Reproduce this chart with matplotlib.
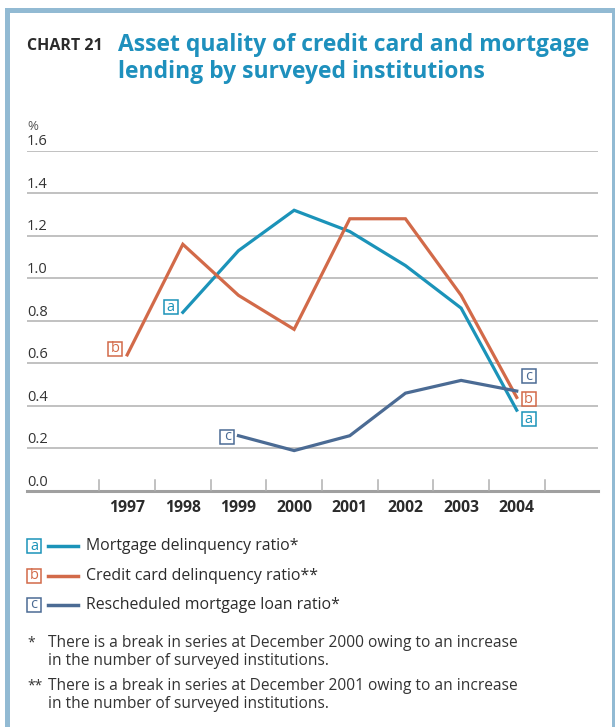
import matplotlib.pyplot as plt
from matplotlib.patches import Rectangle
from matplotlib.transforms import blended_transform_factory, offset_copy

plt.rcParams['font.family'] = ['Open Sans', 'DejaVu Sans']

years = [1997, 1998, 1999, 2000, 2001, 2002, 2003, 2004]
mortgage_years = years[1:]
mortgage = [0.84, 1.13, 1.32, 1.22, 1.06, 0.86, 0.38]
credit_years = years
credit = [0.64, 1.16, 0.92, 0.76, 1.28, 1.28, 0.92, 0.44]
resched_years = years[2:]
resched = [0.26, 0.19, 0.26, 0.46, 0.52, 0.47]

yticks = [0.0, 0.2, 0.4, 0.6, 0.8, 1.0, 1.2, 1.4, 1.6]
series_names = ['Mortgage delinquency ratio*',
                'Credit card delinquency ratio**',
                'Rescheduled mortgage loan ratio*']
series_tags = ['a', 'b', 'c']
footnotes = [('*', 'There is a break in series at December 2000 owing to an increase\n'
                   'in the number of surveyed institutions.'),
             ('**', 'There is a break in series at December 2001 owing to an increase\n'
                    'in the number of surveyed institutions.')]

teal = '#1b93b9'
orange = '#d26a49'
slate = '#4b6b94'
frame = '#92bad3'
W, H = 615, 727

fig = plt.figure(figsize=(W / 100, H / 100), dpi=100)

# light blue frame (left, top, right)
for x0, y0, w, h in [(5, 0, 5, 719), (5, 714, 610, 5), (612, 0, 3, 719)]:
    fig.patches.append(Rectangle((x0 / W, y0 / H), w / W, h / H, transform=fig.transFigure,
                                 facecolor=frame, edgecolor='none'))

def px(x, y):
    return x / W, 1 - y / H

fig.text(*px(27, 46), 'CHART 21', fontsize=11.5, fontweight='bold', color='#2b2b2b', va='center')
fig.text(*px(118, 58.5), 'Asset quality of credit card and mortgage\nlending by surveyed institutions',
         fontsize=16.5, fontweight='bold', color='#1e90bd', va='center', linespacing=1.22)

ax = fig.add_axes([27 / W, (H - 491) / H, 571 / W, (491 - 150.7) / H])
ax.set_xlim(1995.2, 2005.46)
ax.set_ylim(0, 1.6)
for s in ax.spines.values():
    s.set_visible(False)
ax.set_xticks([])
ax.set_yticks([])
ax.patch.set_alpha(0)

for v in yticks[1:]:
    ax.axhline(v, color='#b0b0b0', lw=1.1, zorder=1)
ax.axhline(0, color='#a0a0a0', lw=2.2, zorder=1, clip_on=False)
for t in range(1996, 2005):
    ax.plot([t + 0.5, t + 0.5], [0, 0.05], color='#b0b0b0', lw=1.1, zorder=1)

trans = blended_transform_factory(ax.transAxes, ax.transData)
for v in yticks:
    ax.text(0, v + 0.006, f'{v:.1f}', transform=trans, fontsize=10.5, color='#333333',
            va='bottom', ha='left')
ax.text(0, 1.685, '%', transform=trans, fontsize=9.5, color='#555555', va='bottom', ha='left')

for y in years:
    ax.text(y, -0.08, str(y), fontsize=11.3, fontweight='bold', color='#2b2b2b',
            ha='center', va='center')

ax.plot(mortgage_years, mortgage, color=teal, lw=2.3, zorder=3, solid_joinstyle='miter')
ax.plot(credit_years, credit, color=orange, lw=2.3, zorder=3, solid_joinstyle='miter')
ax.plot(resched_years, resched, color=slate, lw=2.3, zorder=3, solid_joinstyle='miter')

def tag(letter, color, x, y, dx, dy):
    tr = offset_copy(ax.transData, fig=fig, x=dx, y=dy, units='dots')
    ax.plot([x], [y], transform=tr, marker='s', ms=10.3, mfc='white', mec=color, mew=1.1,
            zorder=4, clip_on=False)
    ax.text(x, y, letter, transform=tr, fontsize=10.5, color=color, ha='center',
            va='center', zorder=5)

tag('a', teal, mortgage_years[0], mortgage[0], -12, 5)
tag('b', orange, credit_years[0], credit[0], -12, 6)
tag('c', slate, resched_years[0], resched[0], -11, -1)
tag('a', teal, mortgage_years[-1], mortgage[-1], 12, -9)
tag('b', orange, credit_years[-1], credit[-1], 12, -2)
tag('c', slate, resched_years[-1], resched[-1], 12, 15)

# legend
for i, (name, letter, color) in enumerate(zip(series_names, series_tags, [teal, orange, slate])):
    yy = 546 + 29.5 * i
    fig.add_artist(plt.Line2D([34 / W], [1 - yy / H], marker='s', ms=10.3, mfc='white',
                              mec=color, mew=1.1))
    fig.text(*px(34, yy), letter, fontsize=10.5, color=color, ha='center', va='center')
    fig.add_artist(plt.Line2D([48 / W, 78 / W], [1 - yy / H] * 2, color=color, lw=2.5))
    fig.text(*px(86, yy), name, fontsize=11.4, color='#2b2b2b', va='center')

for i, (mark, note) in enumerate(footnotes):
    yy = 652 + 43 * i
    fig.text(*px(27, yy - 9), mark, fontsize=10, color='#333333', va='center')
    fig.text(*px(48, yy), note, fontsize=11.2, color='#333333', va='center', linespacing=1.2)

fig.savefig('out.png', dpi=100, facecolor='white')
